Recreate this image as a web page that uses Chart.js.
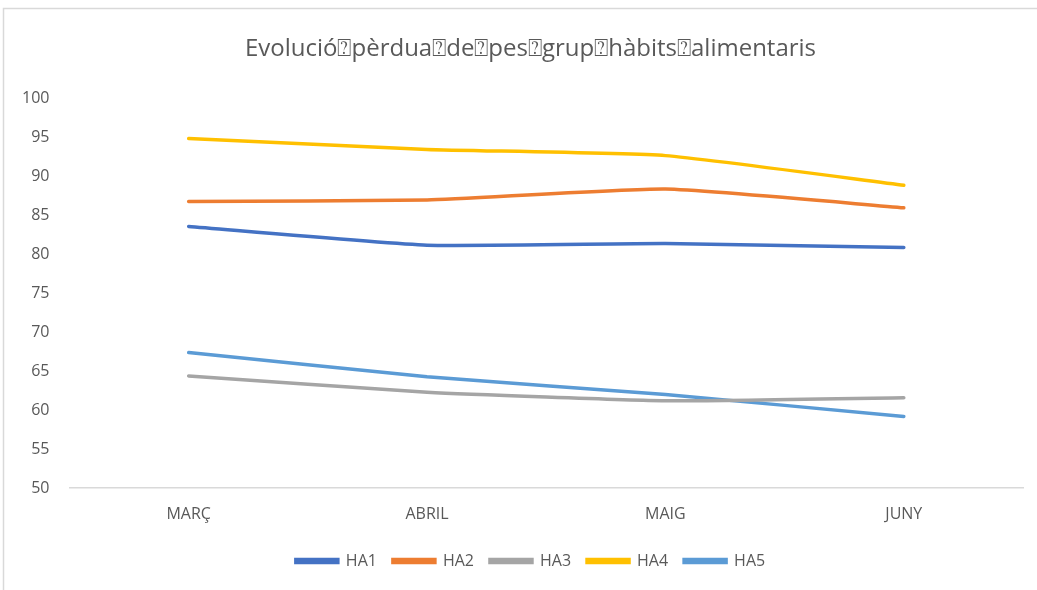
<!DOCTYPE html>
<html>
<head>
<meta charset="utf-8">
<script src="https://cdn.jsdelivr.net/npm/chart.js@4"></script>
<style>
  body { margin: 0; background: #fff; }
  #wrap { position: absolute; left: 0; top: 0; width: 1037px; height: 590px; }
</style>
</head>
<body>
<div id="wrap"><canvas id="grafico" width="1037" height="590"></canvas></div>
<script>
    const meses = ['MARÇ', 'ABRIL', 'MAIG', 'JUNY'];
    const ha1 = [83.6, 81.2, 81.4, 80.9];
    const ha2 = [86.8, 87.0, 88.4, 86.0];
    const ha3 = [64.4, 62.3, 61.2, 61.6];
    const ha4 = [94.9, 93.5, 92.7, 88.9];
    const ha5 = [67.4, 64.3, 62.0, 59.2];
    const titulo = 'Evolució⍰pèrdua⍰de⍰pes⍰grup⍰hàbits⍰alimentaris';

    const gris = '#595959';
    const fuente = "'Open Sans', 'Noto Sans', sans-serif";

    // marco del gráfico (borde superior e izquierdo)
    const marco = {
        id: 'marco',
        beforeDraw(chart) {
            const c = chart.ctx;
            c.save();
            c.strokeStyle = '#d9d9d9';
            c.lineWidth = 1.5;
            c.beginPath();
            c.moveTo(3.5, 590);
            c.lineTo(3.5, 8.5);
            c.lineTo(1037, 8.5);
            c.stroke();
            c.restore();
        }
    };

    // centrar título y leyenda sobre todo el marco, no solo el área útil
    const centrar = {
        id: 'centrar',
        afterLayout(chart) {
            const d = 18;
            chart.titleBlock.left += d;
            chart.titleBlock.right += d;
            chart.legend.left += d;
            chart.legend.right += d;
        }
    };

    function serie(nombre, datos, color) {
        return {
            label: nombre,
            data: datos,
            borderColor: color,
            backgroundColor: color,
            borderWidth: 3.5,
            pointRadius: 0,
            tension: 0.15,
            borderCapStyle: 'round'
        };
    }

    const ctx = document.getElementById('grafico').getContext('2d');
    new Chart(ctx, {
        type: 'line',
        data: {
            labels: meses,
            datasets: [
                serie('HA1', ha1, '#4472C4'),
                serie('HA2', ha2, '#ED7D31'),
                serie('HA3', ha3, '#A5A5A5'),
                serie('HA4', ha4, '#FFC000'),
                serie('HA5', ha5, '#5B9BD5')
            ]
        },
        options: {
            responsive: false,
            animation: false,
            layout: { padding: { left: 2, right: 14, top: 35, bottom: 11 } },
            plugins: {
                title: {
                    display: true,
                    text: titulo,
                    color: gris,
                    font: { family: fuente, size: 24, weight: 'normal' },
                    padding: { top: 0, bottom: 35 }
                },
                legend: {
                    position: 'bottom',
                    labels: {
                        color: gris,
                        font: { family: fuente, size: 16 },
                        boxWidth: 42,
                        boxHeight: 3,
                        padding: 16
                    }
                },
                tooltip: { enabled: false }
            },
            scales: {
                x: {
                    offset: true,
                    grid: { display: false, drawTicks: false },
                    border: { display: true, color: '#d9d9d9', width: 1.5 },
                    ticks: {
                        color: gris,
                        font: { family: fuente, size: 16, lineHeight: 1 },
                        padding: 18
                    },
                    afterFit(scale) { scale.height -= 3; }
                },
                y: {
                    min: 50,
                    max: 100,
                    grid: { display: false, drawTicks: false },
                    border: { display: false },
                    ticks: {
                        stepSize: 5,
                        color: gris,
                        font: { family: fuente, size: 16 },
                        padding: 20
                    }
                }
            }
        },
        plugins: [marco, centrar]
    });
</script>
</body>
</html>
